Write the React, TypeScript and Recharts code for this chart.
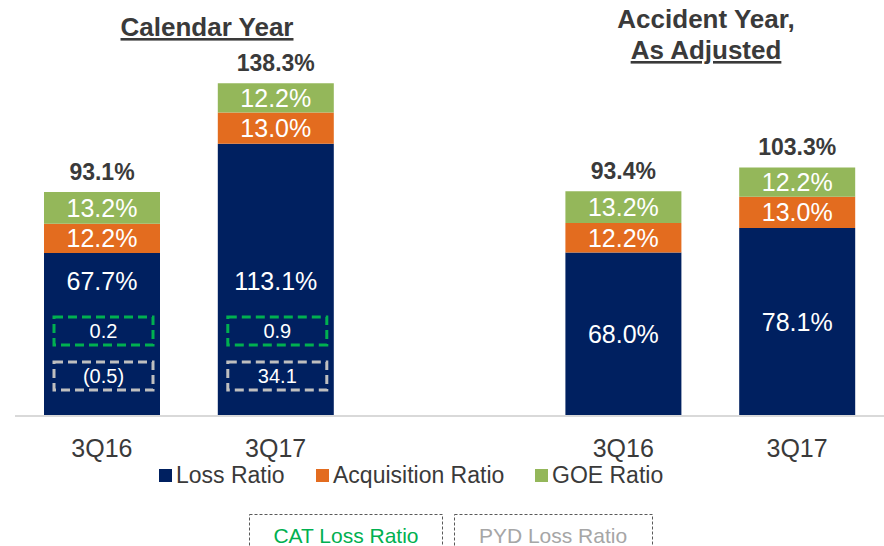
import { Bar, BarChart, LabelList, XAxis, YAxis } from "recharts";

// values
const CATEGORIES = ["3Q16", "3Q17", "", "3Q16", "3Q17"];
const LOSS = [67.7, 113.1, null, 68.0, 78.1];
const ACQUISITION = [12.2, 13.0, null, 12.2, 13.0];
const GOE = [13.2, 12.2, null, 13.2, 12.2];
const TOTAL = [93.1, 138.3, null, 93.4, 103.3];
const CAT_LOSS = [0.2, 0.9, null, null, null];
const PYD_LOSS = [-0.5, 34.1, null, null, null];

const NAVY = "#002060";
const ORANGE = "#E36C1F";
const GREEN = "#94B75A";
const CAT_GREEN = "#00B050";
const PYD_GRAY = "#BFBFBF";
const TEXT = "#3A3A3A";
const FONT = "'Liberation Sans', Arial, sans-serif";

const SERIES = [
  { key: "loss", name: "Loss Ratio", color: NAVY },
  { key: "acq", name: "Acquisition Ratio", color: ORANGE },
  { key: "goe", name: "GOE Ratio", color: GREEN },
];

const data = CATEGORIES.map((c, i) => ({
  key: `c${i}`,
  label: c,
  loss: LOSS[i],
  acq: ACQUISITION[i],
  goe: GOE[i],
  total: TOTAL[i],
  cat: CAT_LOSS[i],
  pyd: PYD_LOSS[i],
}));

const fmtPct = (v: number) => `${v.toFixed(1)}%`;
const fmtBox = (v: number) => (v < 0 ? `(${Math.abs(v).toFixed(1)})` : v.toFixed(1));

function SegmentLabel(props: any) {
  const { x, y, width, height, value } = props;
  if (value == null) return null;
  return (
    <text x={x + width / 2} y={y + height / 2 + 9} textAnchor="middle" fill="#fff"
      fontSize={25} fontFamily={FONT}>
      {fmtPct(value)}
    </text>
  );
}

// calendar-year loss bars carry the CAT / PYD boxes, so the % sits higher
function LossLabel(props: any) {
  const { x, y, width, height, value, index } = props;
  if (value == null) return null;
  const hasBoxes = data.filter((d) => d.loss != null)[index]?.cat != null;
  const ty = hasBoxes ? y + height - 135 : y + height / 2;
  return (
    <text x={x + width / 2} y={ty + 9} textAnchor="middle" fill="#fff" fontSize={25} fontFamily={FONT}>
      {fmtPct(value)}
    </text>
  );
}

function boxLabel(offset: number, color: string) {
  return (props: any) => {
    const { x, y, width, height, value } = props;
    if (value == null) return null;
    const base = y + height;
    return (
      <g>
        <rect x={x + 10} y={base - offset} width={width - 17} height={28} fill="none"
          stroke={color} strokeWidth={3} strokeDasharray="9 5" />
        <text x={x + 10 + (width - 17) / 2} y={base - offset + 21} textAnchor="middle" fill="#fff"
          fontSize={20} fontFamily={FONT}>{fmtBox(value)}</text>
      </g>
    );
  };
}

function TotalLabel(props: any) {
  const { x, y, width, value } = props;
  if (value == null) return null;
  return (
    <text x={x + width / 2} y={y - 12} textAnchor="middle" fill={TEXT} fontSize={23}
      fontWeight="bold" fontFamily={FONT}>
      {fmtPct(value)}
    </text>
  );
}

const LEGEND_X = [159, 316, 535];

export default function App() {
  return (
    <div style={{ position: "absolute", left: 0, top: 0, width: 884, height: 546, background: "#fff" }}>
      <BarChart width={884} height={546} data={data}
        margin={{ top: 31, right: 0, left: 15, bottom: 90 }} barSize={116}>
        <XAxis dataKey="key" height={40} tickLine={false} tickMargin={17}
          axisLine={{ stroke: "#D9D9D9", strokeWidth: 2 }}
          tickFormatter={(_v: string, i: number) => CATEGORIES[i]}
          tick={{ fill: TEXT, fontSize: 25, fontFamily: FONT }} interval={0} />
        <YAxis hide domain={[0, 160]} />
        <Bar dataKey="loss" stackId="a" fill={NAVY} isAnimationActive={false}>
          <LabelList dataKey="loss" content={LossLabel} />
          <LabelList dataKey="cat" content={boxLabel(99, CAT_GREEN)} />
          <LabelList dataKey="pyd" content={boxLabel(54, PYD_GRAY)} />
        </Bar>
        <Bar dataKey="acq" stackId="a" fill={ORANGE} isAnimationActive={false}>
          <LabelList dataKey="acq" content={SegmentLabel} />
        </Bar>
        <Bar dataKey="goe" stackId="a" fill={GREEN} isAnimationActive={false}>
          <LabelList dataKey="goe" content={SegmentLabel} />
          <LabelList dataKey="total" content={TotalLabel} />
        </Bar>
      </BarChart>

      <svg width={884} height={546} style={{ position: "absolute", left: 0, top: 0, pointerEvents: "none" }}>
        <g fontFamily={FONT} fill={TEXT} fontWeight="bold" fontSize={26} textAnchor="middle">
          <text x={207} y={36} style={{ textDecoration: "underline" }}>Calendar Year</text>
          <text x={706} y={28}>Accident Year,</text>
          <text x={706} y={59} style={{ textDecoration: "underline" }}>As Adjusted</text>
        </g>

        {SERIES.map((s, i) => (
          <g key={s.key}>
            <rect x={LEGEND_X[i]} y={469} width={13} height={13} fill={s.color} />
            <text x={LEGEND_X[i] + 17} y={483} fill={TEXT} fontSize={23} fontFamily={FONT}>{s.name}</text>
          </g>
        ))}

        <rect x={249.5} y={514.5} width={193} height={40} fill="none" stroke="#595959" strokeWidth={1} strokeDasharray="3 2" />
        <text x={346} y={543} textAnchor="middle" fill={CAT_GREEN} fontSize={21} fontFamily={FONT}>CAT Loss Ratio</text>
        <rect x={454.5} y={514.5} width={198} height={40} fill="none" stroke="#595959" strokeWidth={1} strokeDasharray="3 2" />
        <text x={553} y={543} textAnchor="middle" fill="#A6A6A6" fontSize={21} fontFamily={FONT}>PYD Loss Ratio</text>
      </svg>
    </div>
  );
}
